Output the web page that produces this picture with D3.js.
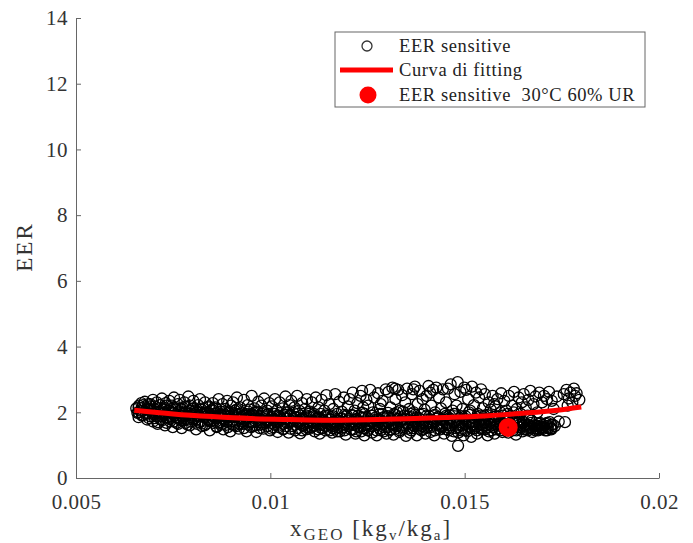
<!DOCTYPE html>
<meta charset="utf-8">
<style>
    body { margin: 0; background: #fff; }
    svg { font-family: "Liberation Serif", "DejaVu Serif", serif; }
    .axis path, .axis line { stroke: #666; stroke-width: 1; }
    .axis text { font-size: 21px; fill: #333; font-family: "Liberation Serif", serif; letter-spacing: 0.5px; }
    .dot { fill: none; stroke: #000; stroke-width: 1.3; }
    .fit { fill: none; stroke: #f00; stroke-width: 5; }
</style>
<body>
<script src="https://d3js.org/d3.v7.min.js"></script>
<script>
// EER sensitive measurements [x_GEO, EER] - outer spread of the cloud
let eerSpread = [
    [0.00655,2.12],[0.00658,1.98],[0.00662,2.2],[0.00665,2.05],[0.00668,2.28],[0.0067,1.9],[0.00674,2.15],[0.00677,2.32],[0.0068,1.95],[0.00683,2.08],[0.00686,2.25],[0.00688,1.82],[0.00692,2.18],[0.00695,2.0],[0.00698,2.38],[0.00698,1.72],
    [0.00702,2.1],[0.00705,1.88],[0.00708,2.3],[0.0071,1.65],[0.00713,2.02],[0.00716,2.22],[0.00718,1.78],[0.00721,2.42],[0.00724,1.95],[0.00726,2.14],[0.00729,1.6],[0.00731,2.28],[0.00734,1.85],[0.00737,2.05],[0.0074,2.35],[0.00742,1.72],[0.00745,1.98],[0.00747,2.2],[0.00749,1.55],[0.00712,1.92],[0.00728,2.0],[0.00743,2.12],
    [0.00752,2.45],[0.00754,1.9],[0.00757,2.08],[0.00759,1.68],[0.00762,2.25],[0.00764,1.8],[0.00767,2.38],[0.00769,1.98],[0.00772,1.52],[0.00774,2.15],[0.00777,1.75],[0.00779,2.3],[0.00782,1.88],[0.00784,2.02],[0.00787,1.62],[0.00789,2.48],[0.00792,1.95],[0.00794,2.2],[0.00797,1.72],[0.00799,2.1],[0.00758,1.85],[0.00776,1.95],[0.00791,1.8],
    [0.00802,2.35],[0.00804,1.82],[0.00807,2.05],[0.00809,1.48],[0.00812,1.92],[0.00814,2.22],[0.00817,1.7],[0.00819,2.4],[0.00822,1.98],[0.00824,1.58],[0.00827,2.12],[0.00829,1.85],[0.00832,2.3],[0.00834,1.65],[0.00837,2.0],[0.00839,1.78],[0.00842,2.18],[0.00844,1.45],[0.00847,1.9],[0.00849,2.08],[0.00815,1.88],[0.00833,1.95],[0.00846,1.72],
    [0.00852,2.28],[0.00854,1.75],[0.00857,1.95],[0.00859,2.15],[0.00862,1.55],[0.00864,1.88],[0.00867,2.4],[0.00869,1.68],[0.00872,2.02],[0.00874,1.82],[0.00877,2.25],[0.00879,1.48],[0.00882,1.92],[0.00884,2.1],[0.00887,1.62],[0.00889,2.35],[0.00892,1.78],[0.00894,1.98],[0.00897,1.42],[0.00899,2.2],[0.00858,1.85],[0.00873,1.9],[0.00888,1.72],
    [0.00902,1.85],[0.00904,2.3],[0.00907,1.6],[0.00909,2.05],[0.00912,1.75],[0.00914,2.45],[0.00917,1.92],[0.00919,1.5],[0.00922,2.15],[0.00924,1.82],[0.00927,2.0],[0.00929,1.65],[0.00932,2.38],[0.00934,1.78],[0.00937,1.95],[0.00939,1.42],[0.00942,2.22],[0.00944,1.7],[0.00947,2.08],[0.00949,1.88],[0.00911,1.95],[0.00926,1.72],[0.00941,1.8],
    [0.00952,2.5],[0.00954,1.58],[0.00957,1.9],[0.00959,2.12],[0.00962,1.72],[0.00964,1.4],[0.00967,2.02],[0.00969,2.32],[0.00972,1.8],[0.00974,1.62],[0.00977,2.2],[0.00979,1.95],[0.00982,1.5],[0.00984,2.42],[0.00987,1.85],[0.00989,1.68],[0.00992,2.05],[0.00994,1.76],[0.00997,2.28],[0.00999,1.45],[0.00961,1.88],[0.00976,1.7],[0.00991,1.92],
    [0.01002,1.82],[0.01004,2.18],[0.01007,1.55],[0.01009,1.95],[0.01012,2.4],[0.01014,1.7],[0.01017,2.05],[0.01019,1.4],[0.01022,1.88],[0.01024,2.3],[0.01027,1.62],[0.01029,1.78],[0.01032,2.12],[0.01034,1.5],[0.01037,1.92],[0.01039,2.48],[0.01042,1.68],[0.01044,2.0],[0.01047,1.38],[0.01049,2.22],[0.01011,1.75],[0.01026,1.85],[0.01041,1.8],
    [0.01052,1.75],[0.01054,2.35],[0.01057,1.58],[0.01059,1.98],[0.01062,2.15],[0.01064,1.45],[0.01067,1.85],[0.01069,2.5],[0.01072,1.68],[0.01074,2.05],[0.01077,1.36],[0.01079,1.9],[0.01082,2.28],[0.01084,1.6],[0.01087,1.78],[0.01089,2.1],[0.01092,1.48],[0.01094,2.4],[0.01097,1.72],[0.01099,1.95],[0.01061,1.8],[0.01076,1.65],[0.01091,1.85],
    [0.01102,2.02],[0.01104,1.55],[0.01107,2.3],[0.01109,1.7],[0.01112,1.88],[0.01114,1.42],[0.01117,2.45],[0.01119,1.8],[0.01122,1.62],[0.01124,2.15],[0.01127,1.35],[0.01129,1.95],[0.01132,2.38],[0.01134,1.52],[0.01137,1.75],[0.01139,2.05],[0.01142,1.45],[0.01144,2.52],[0.01147,1.68],[0.01149,1.9],[0.01111,1.6],[0.01126,1.78],[0.01141,1.85],
    [0.01152,2.25],[0.01154,1.6],[0.01157,1.85],[0.01159,1.38],[0.01162,2.1],[0.01164,1.72],[0.01167,2.55],[0.01169,1.5],[0.01172,1.95],[0.01174,1.65],[0.01177,2.32],[0.01179,1.42],[0.01182,1.8],[0.01184,2.02],[0.01187,1.55],[0.01189,2.45],[0.01192,1.7],[0.01194,1.32],[0.01197,1.9],[0.01199,2.18],[0.01161,1.58],[0.01176,1.75],[0.01191,1.62],
    [0.01202,1.75],[0.01204,2.4],[0.01207,1.48],[0.01209,1.92],[0.01212,2.6],[0.01214,1.62],[0.01217,2.05],[0.01219,1.35],[0.01222,1.8],[0.01224,2.28],[0.01227,1.55],[0.01229,1.7],[0.01232,2.5],[0.01234,1.42],[0.01237,1.98],[0.01239,2.15],[0.01242,1.3],[0.01244,1.85],[0.01247,2.38],[0.01249,1.6],[0.01211,1.7],[0.01226,1.9],[0.01241,1.52],[0.01236,2.65],
    [0.01252,2.2],[0.01254,1.5],[0.01257,2.68],[0.01259,1.72],[0.01262,1.38],[0.01264,2.0],[0.01267,2.45],[0.01269,1.6],[0.01272,1.85],[0.01274,1.3],[0.01277,2.58],[0.01279,1.78],[0.01282,2.1],[0.01284,1.45],[0.01287,1.95],[0.01289,2.35],[0.01292,1.55],[0.01294,1.68],[0.01297,2.7],[0.01299,1.35],[0.01261,1.9],[0.01276,1.62],[0.01291,1.82],[0.01284,2.25],
    [0.01302,1.88],[0.01304,2.62],[0.01307,1.45],[0.01309,2.15],[0.01312,1.68],[0.01314,2.75],[0.01317,1.32],[0.01319,1.95],[0.01322,2.4],[0.01324,1.58],[0.01327,1.8],[0.01329,2.68],[0.01332,1.4],[0.01334,2.05],[0.01337,1.72],[0.01339,2.52],[0.01342,1.5],[0.01344,1.9],[0.01347,2.3],[0.01349,1.28],[0.01311,1.75],[0.01326,2.0],[0.01341,1.62],[0.01321,2.72],
    [0.01352,2.72],[0.01354,1.65],[0.01357,2.1],[0.01359,1.38],[0.01362,1.85],[0.01364,2.55],[0.01367,1.52],[0.01369,2.0],[0.01372,2.78],[0.01374,1.75],[0.01377,1.3],[0.01379,2.25],[0.01382,1.6],[0.01384,2.65],[0.01387,1.92],[0.01389,1.45],[0.01392,2.4],[0.01394,1.7],[0.01397,2.08],[0.01399,1.35],[0.01361,1.95],[0.01376,1.82],[0.01391,1.58],[0.01368,2.7],
    [0.01402,2.5],[0.01404,1.55],[0.01407,2.8],[0.01409,1.88],[0.01412,1.4],[0.01414,2.2],[0.01417,1.7],[0.01419,2.68],[0.01422,1.3],[0.01424,2.0],[0.01427,2.75],[0.01429,1.62],[0.01432,1.85],[0.01434,2.45],[0.01437,1.48],[0.01439,2.12],[0.01442,1.75],[0.01444,2.7],[0.01447,1.35],[0.01449,1.95],[0.01411,2.6],[0.01426,1.8],[0.01441,1.58],
    [0.01452,2.3],[0.01454,1.65],[0.01457,2.72],[0.01459,1.45],[0.01462,1.9],[0.01464,2.85],[0.01467,1.28],[0.01469,2.05],[0.01472,1.72],[0.01474,2.55],[0.01477,1.52],[0.01479,2.2],[0.01482,2.92],[0.01484,1.38],[0.01483,0.98],[0.01487,1.82],[0.01489,2.62],[0.01492,1.6],[0.01494,2.1],[0.01497,1.3],[0.01499,2.75],[0.01461,1.78],[0.01476,1.95],[0.01491,1.45],
    [0.01502,1.88],[0.01504,2.68],[0.01507,1.42],[0.01509,2.4],[0.01512,1.7],[0.01514,2.05],[0.01517,1.25],[0.01519,2.78],[0.01522,1.58],[0.01524,2.22],[0.01527,1.8],[0.01529,2.6],[0.01532,1.35],[0.01534,1.95],[0.01537,2.45],[0.01539,1.62],[0.01542,2.7],[0.01544,1.48],[0.01547,2.12],[0.01549,1.75],[0.01511,2.0],[0.01526,1.52],[0.01541,1.9],
    [0.01552,2.55],[0.01554,1.6],[0.01557,1.92],[0.01559,1.3],[0.01562,2.3],[0.01564,1.72],[0.01567,2.08],[0.01569,1.45],[0.01572,2.5],[0.01574,1.85],[0.01577,1.35],[0.01579,2.18],[0.01582,1.62],[0.01584,2.4],[0.01587,1.78],[0.01589,1.5],[0.01592,2.0],[0.01594,2.58],[0.01597,1.4],[0.01599,1.9],[0.01561,1.55],[0.01576,2.25],[0.01591,1.7],
    [0.01602,2.35],[0.01604,1.5],[0.01607,2.05],[0.01609,1.75],[0.01612,1.38],[0.01614,2.5],[0.01617,1.88],[0.01619,1.6],[0.01622,2.2],[0.01624,1.45],[0.01627,2.62],[0.01629,1.8],[0.01632,1.32],[0.01634,2.1],[0.01637,1.68],[0.01639,2.45],[0.01642,1.55],[0.01644,1.95],[0.01647,2.3],[0.01649,1.42],[0.01611,1.95],[0.01626,2.0],[0.01641,1.72],
    [0.01652,2.55],[0.01654,1.62],[0.01657,2.15],[0.01659,1.48],[0.01662,1.9],[0.01664,2.38],[0.01667,1.55],[0.01669,2.65],[0.01672,1.75],[0.01674,1.4],[0.01677,2.25],[0.01679,1.6],[0.01682,2.48],[0.01684,1.5],[0.01687,2.0],[0.01689,1.45],[0.01692,2.6],[0.01694,1.68],[0.01697,1.52],[0.01699,2.3],[0.01666,1.82],[0.01686,1.58],
    [0.01702,1.55],[0.01704,2.5],[0.01707,1.45],[0.01709,1.65],[0.01712,2.4],[0.01714,1.52],[0.01717,2.62],[0.01719,1.7],[0.01722,1.5],[0.01724,2.35],[0.01727,1.62],[0.01729,2.1],[0.01732,1.58],[0.01737,2.48],[0.01742,1.72],
    [0.01755,2.55],[0.01762,2.68],[0.01768,2.42],[0.01772,2.6],[0.01777,2.3],[0.01781,2.72],[0.01784,2.5],[0.01788,2.58],[0.01795,2.38],[0.01765,2.2],[0.01758,1.7]
];

// dense core of the cloud, same series
let eerCore = [
    [0.00661,2.0],[0.00661,2.15],[0.00661,1.85],[0.00672,1.92],[0.00672,2.22],[0.00672,2.05],[0.00683,1.78],[0.00683,2.12],[0.00683,1.98],
    [0.00691,2.08],[0.00691,1.88],[0.00691,2.25],[0.00703,1.82],[0.00703,2.18],[0.00703,1.95],[0.00711,2.02],[0.00711,1.7],[0.00711,2.12],
    [0.00722,1.88],[0.00722,2.08],[0.00722,1.76],[0.00733,2.2],[0.00733,1.95],[0.00733,1.68],[0.00741,1.8],[0.00741,2.05],[0.00741,1.9],
    [0.00752,1.72],[0.00752,2.15],[0.00752,1.98],[0.00763,2.02],[0.00763,1.85],[0.00763,1.65],[0.00771,1.9],[0.00771,2.1],[0.00771,1.75],
    [0.00782,1.68],[0.00782,1.98],[0.00782,2.18],[0.00793,1.85],[0.00793,2.05],[0.00793,1.6],[0.00801,1.78],[0.00801,1.95],[0.00801,2.12],
    [0.00812,2.02],[0.00812,1.65],[0.00812,1.88],[0.00823,1.72],[0.00823,2.08],[0.00823,1.92],[0.00831,1.6],[0.00831,1.85],[0.00831,2.0],
    [0.00842,1.95],[0.00842,1.75],[0.00842,2.15],[0.00853,1.68],[0.00853,1.9],[0.00853,2.05],[0.00861,1.82],[0.00861,1.58],[0.00861,2.1],
    [0.00872,1.7],[0.00872,1.95],[0.00872,1.62],[0.00883,2.02],[0.00883,1.78],[0.00883,1.88],[0.00891,1.55],[0.00891,1.85],[0.00891,1.98],
    [0.00902,1.72],[0.00902,2.0],[0.00902,1.62],[0.00913,1.88],[0.00913,1.58],[0.00913,2.08],[0.00921,1.65],[0.00921,1.8],[0.00921,1.95],
    [0.00932,1.52],[0.00932,1.9],[0.00932,1.72],[0.00943,1.85],[0.00943,1.62],[0.00943,2.02],[0.00951,1.7],[0.00951,1.95],[0.00951,1.55],
    [0.00962,1.6],[0.00962,1.8],[0.00962,1.98],[0.00973,1.88],[0.00973,1.52],[0.00973,1.75],[0.00981,1.65],[0.00981,2.0],[0.00981,1.82],
    [0.00992,1.58],[0.00992,1.72],[0.00992,1.92],[0.01003,1.85],[0.01003,1.5],[0.01003,1.68],[0.01011,1.62],[0.01011,1.95],[0.01011,1.78],
    [0.01022,1.72],[0.01022,1.55],[0.01022,1.9],[0.01033,1.88],[0.01033,1.65],[0.01033,1.48],[0.01041,1.58],[0.01041,1.82],[0.01041,2.0],
    [0.01052,1.7],[0.01052,1.5],[0.01052,1.92],[0.01063,1.62],[0.01063,1.85],[0.01063,1.75],[0.01071,1.52],[0.01071,1.72],[0.01071,1.95],
    [0.01082,1.8],[0.01082,1.6],[0.01082,1.45],[0.01093,1.68],[0.01093,1.9],[0.01093,1.55],[0.01101,1.75],[0.01101,1.5],[0.01101,1.85],
    [0.01112,1.58],[0.01112,1.95],[0.01112,1.68],[0.01123,1.48],[0.01123,1.72],[0.01123,1.85],[0.01131,1.62],[0.01131,1.8],[0.01131,1.52],
    [0.01142,1.9],[0.01142,1.58],[0.01142,1.7],[0.01153,1.45],[0.01153,1.78],[0.01153,1.65],[0.01161,1.68],[0.01161,1.52],[0.01161,1.88],
    [0.01172,1.55],[0.01172,1.75],[0.01172,1.42],[0.01183,1.82],[0.01183,1.62],[0.01183,1.5],[0.01191,1.7],[0.01191,1.45],[0.01191,1.92],
    [0.01202,1.58],[0.01202,1.8],[0.01202,1.65],[0.01213,1.48],[0.01213,1.72],[0.01213,1.9],[0.01221,1.62],[0.01221,1.42],[0.01221,1.78],
    [0.01232,1.85],[0.01232,1.55],[0.01232,1.68],[0.01243,1.5],[0.01243,1.72],[0.01243,1.95],[0.01251,1.65],[0.01251,1.45],[0.01251,1.82],
    [0.01262,1.58],[0.01262,1.9],[0.01262,1.7],[0.01273,1.45],[0.01273,1.78],[0.01273,1.62],[0.01281,1.72],[0.01281,1.52],[0.01281,1.95],
    [0.01292,1.62],[0.01292,1.85],[0.01292,1.42],[0.01303,1.55],[0.01303,1.7],[0.01303,1.98],[0.01311,1.8],[0.01311,1.48],[0.01311,1.65],
    [0.01322,1.62],[0.01322,1.92],[0.01322,1.5],[0.01333,1.72],[0.01333,1.45],[0.01333,1.85],[0.01341,1.55],[0.01341,1.78],[0.01341,2.02],
    [0.01352,1.68],[0.01352,1.5],[0.01352,1.88],[0.01363,1.45],[0.01363,1.75],[0.01363,1.62],[0.01371,1.92],[0.01371,1.58],[0.01371,1.72],
    [0.01382,1.5],[0.01382,1.82],[0.01382,1.65],[0.01393,1.7],[0.01393,1.48],[0.01393,1.95],[0.01401,1.62],[0.01401,1.88],[0.01401,1.52],
    [0.01412,1.78],[0.01412,1.55],[0.01412,1.68],[0.01423,1.45],[0.01423,1.72],[0.01423,1.92],[0.01431,1.65],[0.01431,1.5],[0.01431,1.85],
    [0.01442,1.55],[0.01442,1.78],[0.01442,1.62],[0.01453,1.9],[0.01453,1.48],[0.01453,1.7],[0.01461,1.6],[0.01461,1.82],[0.01461,1.52],
    [0.01472,1.42],[0.01472,1.68],[0.01472,1.95],[0.01483,1.75],[0.01483,1.55],[0.01483,1.62],[0.01491,1.5],[0.01491,1.88],[0.01491,1.7],
    [0.01502,1.65],[0.01502,1.45],[0.01502,1.8],[0.01513,1.55],[0.01513,1.72],[0.01513,1.92],[0.01521,1.7],[0.01521,1.5],[0.01521,1.62],
    [0.01532,1.85],[0.01532,1.58],[0.01532,1.45],[0.01543,1.62],[0.01543,1.78],[0.01543,1.52],[0.01551,1.48],[0.01551,1.7],[0.01551,1.9],
    [0.01562,1.65],[0.01562,1.42],[0.01562,1.8],[0.01573,1.55],[0.01573,1.75],[0.01573,1.62],[0.01581,1.72],[0.01581,1.48],[0.01581,1.88],
    [0.01592,1.58],[0.01592,1.68],[0.01592,1.45],[0.01603,1.8],[0.01603,1.52],[0.01603,1.65],[0.01611,1.62],[0.01611,1.45],[0.01611,1.75],
    [0.01622,1.5],[0.01622,1.72],[0.01622,1.58],[0.01633,1.68],[0.01633,1.45],[0.01633,1.85],[0.01641,1.55],[0.01641,1.62],[0.01641,1.78],
    [0.01652,1.48],[0.01652,1.7],[0.01652,1.58],[0.01663,1.62],[0.01663,1.52],[0.01663,1.45],[0.01671,1.55],[0.01671,1.68],[0.01671,1.5],
    [0.01682,1.45],[0.01682,1.6],[0.01682,1.52],[0.01693,1.58],[0.01693,1.48],[0.01693,1.65],[0.01701,1.5],[0.01701,1.55],[0.01701,1.62],
    [0.01712,1.45],[0.01712,1.58],[0.01712,1.68],[0.01723,1.52],[0.01723,1.62],[0.01723,1.48]
];

// fitting curve
let fitX = [0.0065, 0.0075, 0.0085, 0.0095, 0.0105, 0.0115, 0.0125, 0.0135, 0.0145, 0.0155, 0.0165, 0.0175, 0.018];
let fitY = [2.06, 1.95, 1.87, 1.81, 1.78, 1.76, 1.77, 1.80, 1.84, 1.89, 1.97, 2.08, 2.16];

// highlighted point: 30°C 60% UR
let refPoint = [0.01612, 1.54];

let xTicks = [0.005, 0.01, 0.015, 0.02];
let xTickLabels = ["0.005", "0.01", "0.015", "0.02"];
let yTicks = [0, 2, 4, 6, 8, 10, 12, 14];

let legendLabels = ["EER sensitive", "Curva di fitting", "EER sensitive  30°C 60% UR"];

let width = 693, height = 543;
let svg = d3.select("body").append("svg")
    .attr("width", width)
    .attr("height", height);

let xScale = d3.scaleLinear().domain([0.005, 0.02]).range([76, 659]);
let yScale = d3.scaleLinear().domain([0, 14]).range([478, 18]);

// axes, ticks pointing inward
svg.append("g")
    .attr("class", "axis")
    .attr("transform", "translate(0,478)")
    .call(d3.axisBottom(xScale)
        .tickValues(xTicks)
        .tickFormat(function(d, i) { return xTickLabels[i]; })
        .tickSizeInner(-5).tickSizeOuter(0).tickPadding(16));

svg.append("g")
    .attr("class", "axis")
    .attr("transform", "translate(76,0)")
    .call(d3.axisLeft(yScale)
        .tickValues(yTicks)
        .tickSizeInner(-5).tickSizeOuter(0).tickPadding(8));

// scatter
let eerPoints = eerSpread.concat(eerCore);
svg.append("g").selectAll(".dot")
    .data(eerPoints)
    .enter().append("circle")
    .attr("class", "dot")
    .attr("cx", function(d) { return xScale(d[0]); })
    .attr("cy", function(d) { return yScale(d[1]); })
    .attr("r", 5.5);

// fitting curve
let fitData = fitX.map(function(x, i) { return [x, fitY[i]]; });
let line = d3.line()
    .x(function(d) { return xScale(d[0]); })
    .y(function(d) { return yScale(d[1]); })
    .curve(d3.curveMonotoneX);
svg.append("path")
    .datum(fitData)
    .attr("class", "fit")
    .attr("d", line);

// reference point
svg.append("circle")
    .attr("cx", xScale(refPoint[0]))
    .attr("cy", yScale(refPoint[1]))
    .attr("r", 9.5)
    .attr("fill", "#f00");
svg.append("circle")
    .attr("cx", xScale(refPoint[0]))
    .attr("cy", yScale(refPoint[1]))
    .attr("r", 1)
    .attr("fill", "#900");

// axis labels
svg.append("text")
    .attr("transform", "translate(32,247) rotate(-90)")
    .style("text-anchor", "middle")
    .style("font-size", "23px")
    .style("letter-spacing", "2px")
    .attr("fill", "#333")
    .text("EER");

let xl = svg.append("text")
    .attr("x", 290)
    .attr("y", 536)
    .attr("fill", "#333")
    .style("font-size", "23px")
    .style("letter-spacing", "2px");
xl.append("tspan").text("x");
xl.append("tspan").attr("dy", 4).style("font-size", "17px").text("GEO");
xl.append("tspan").attr("dy", -4).text(" [kg");
xl.append("tspan").attr("dy", 4).style("font-size", "15px").text("v");
xl.append("tspan").attr("dy", -4).text("/kg");
xl.append("tspan").attr("dy", 4).style("font-size", "15px").text("a");
xl.append("tspan").attr("dy", -4).text("]");

// legend
let legend = svg.append("g");
legend.append("rect")
    .attr("x", 335).attr("y", 32)
    .attr("width", 310).attr("height", 75)
    .attr("fill", "#fff")
    .attr("stroke", "#666")
    .attr("stroke-width", 1);

let rowY = [46, 70, 95];
legend.append("circle")
    .attr("cx", 367).attr("cy", rowY[0]).attr("r", 5)
    .attr("fill", "none").attr("stroke", "#333").attr("stroke-width", 1.3);
legend.append("line")
    .attr("x1", 340).attr("x2", 393)
    .attr("y1", rowY[1]).attr("y2", rowY[1])
    .attr("stroke", "#f00").attr("stroke-width", 5);
legend.append("circle")
    .attr("cx", 368).attr("cy", rowY[2]).attr("r", 8.5)
    .attr("fill", "#f00");

legend.selectAll(".ltext")
    .data(legendLabels)
    .enter().append("text")
    .attr("x", 399)
    .attr("y", function(d, i) { return rowY[i] + 6; })
    .attr("fill", "#222")
    .style("font-size", "18.5px")
    .style("letter-spacing", "0.6px")
    .style("white-space", "pre")
    .text(function(d) { return d; });
</script>
</body>
